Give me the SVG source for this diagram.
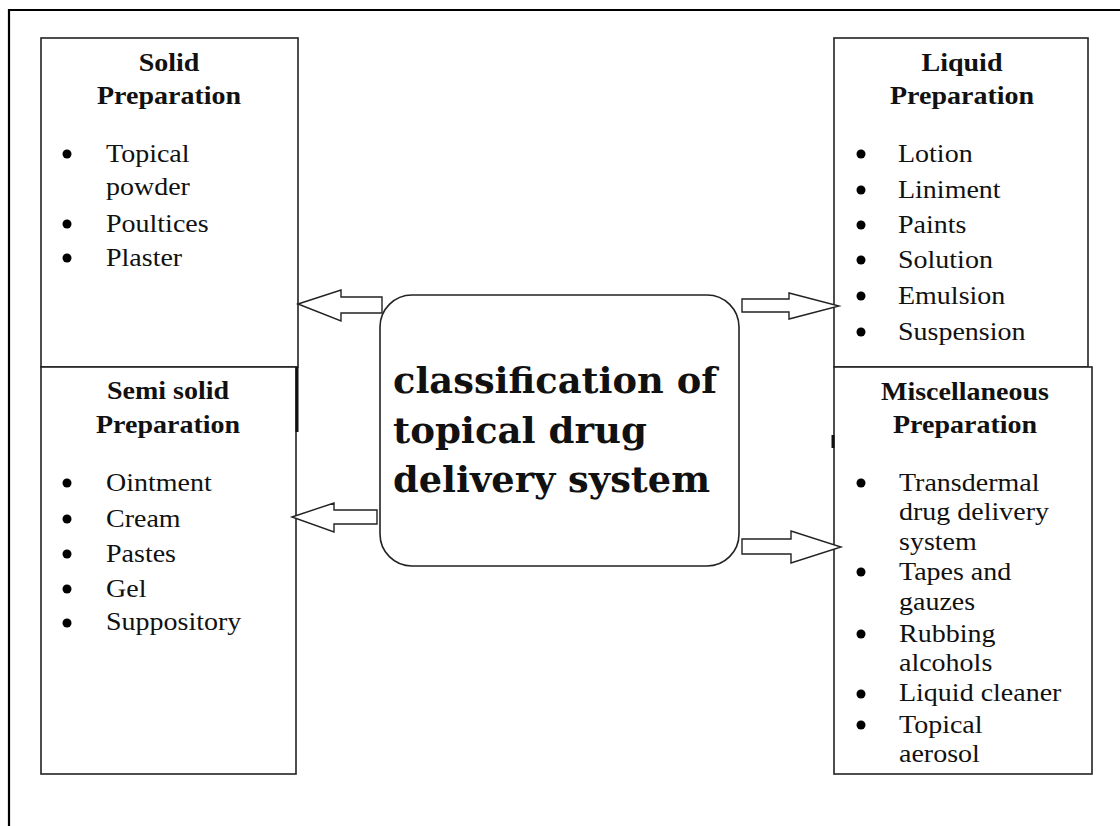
<svg xmlns="http://www.w3.org/2000/svg" width="1120" height="826" viewBox="0 0 1120 826">
<defs>
<style>
.box{fill:#fff;stroke:#222;stroke-width:1.6}
.frame{fill:none;stroke:#000;stroke-width:2.2}
.arrow{fill:#fff;stroke:#222;stroke-width:1.4;stroke-linejoin:miter}
.t{font-family:"Liberation Serif","Times New Roman",serif;font-size:25px;fill:#111}
.h{font-family:"Liberation Serif","Times New Roman",serif;font-size:25px;font-weight:bold;fill:#111;text-anchor:middle}
.c{font-family:"DejaVu Serif","Liberation Serif",serif;font-size:35px;font-weight:bold;fill:#111}
.b{fill:#000}
</style>
</defs>
<rect width="1120" height="826" fill="#fff"/>
<path class="frame" d="M9,830 L9,10 L1125,10"/>

<g id="solid">
<rect class="box" x="41" y="38" width="257" height="329"/>
<g transform="translate(169,0) scale(1.12,1)"><text class="h" x="0" y="71">Solid</text><text class="h" x="0" y="104">Preparation</text></g>
<circle class="b" cx="67" cy="154" r="4.5"/><circle class="b" cx="67" cy="224" r="4.5"/><circle class="b" cx="67" cy="258" r="4.5"/>
<g transform="translate(106,0) scale(1.12,1)">
<text class="t" x="0" y="162">Topical</text>
<text class="t" x="0" y="195">powder</text>
<text class="t" x="0" y="232">Poultices</text>
<text class="t" x="0" y="266">Plaster</text>
</g>
</g>

<g id="semisolid">
<rect class="box" x="41" y="367" width="255" height="407"/>
<line x1="297" y1="367" x2="297" y2="432" stroke="#111" stroke-width="3"/>
<g transform="translate(168,0) scale(1.12,1)"><text class="h" x="0" y="399">Semi solid</text><text class="h" x="0" y="433">Preparation</text></g>
<circle class="b" cx="67" cy="483" r="4.5"/><circle class="b" cx="67" cy="519" r="4.5"/><circle class="b" cx="67" cy="554" r="4.5"/><circle class="b" cx="67" cy="589" r="4.5"/><circle class="b" cx="67" cy="623" r="4.5"/>
<g transform="translate(106,0) scale(1.12,1)">
<text class="t" x="0" y="491">Ointment</text>
<text class="t" x="0" y="527">Cream</text>
<text class="t" x="0" y="562">Pastes</text>
<text class="t" x="0" y="597">Gel</text>
<text class="t" x="0" y="630">Suppository</text>
</g>
</g>

<g id="liquid">
<rect class="box" x="834" y="38" width="254" height="329"/>
<g transform="translate(962,0) scale(1.12,1)"><text class="h" x="0" y="71">Liquid</text><text class="h" x="0" y="104">Preparation</text></g>
<circle class="b" cx="861" cy="154" r="4.5"/><circle class="b" cx="861" cy="190" r="4.5"/><circle class="b" cx="861" cy="225" r="4.5"/><circle class="b" cx="861" cy="260" r="4.5"/><circle class="b" cx="861" cy="296" r="4.5"/><circle class="b" cx="861" cy="332" r="4.5"/>
<g transform="translate(898,0) scale(1.12,1)">
<text class="t" x="0" y="162">Lotion</text>
<text class="t" x="0" y="198">Liniment</text>
<text class="t" x="0" y="233">Paints</text>
<text class="t" x="0" y="268">Solution</text>
<text class="t" x="0" y="304">Emulsion</text>
<text class="t" x="0" y="340">Suspension</text>
</g>
</g>

<g id="misc">
<rect class="box" x="834" y="367" width="258" height="407"/>
<line x1="833" y1="435" x2="833" y2="448" stroke="#111" stroke-width="3"/>
<g transform="translate(965,0) scale(1.12,1)"><text class="h" x="0" y="400">Miscellaneous</text><text class="h" x="0" y="433">Preparation</text></g>
<circle class="b" cx="861" cy="483" r="4.5"/><circle class="b" cx="861" cy="572" r="4.5"/><circle class="b" cx="861" cy="634" r="4.5"/><circle class="b" cx="861" cy="694" r="4.5"/><circle class="b" cx="861" cy="725" r="4.5"/>
<g transform="translate(899,0) scale(1.12,1)">
<text class="t" x="0" y="491">Transdermal</text>
<text class="t" x="0" y="520">drug delivery</text>
<text class="t" x="0" y="550">system</text>
<text class="t" x="0" y="580">Tapes  and</text>
<text class="t" x="0" y="610">gauzes</text>
<text class="t" x="0" y="642">Rubbing</text>
<text class="t" x="0" y="671">alcohols</text>
<text class="t" x="0" y="701">Liquid cleaner</text>
<text class="t" x="0" y="733">Topical</text>
<text class="t" x="0" y="762">aerosol</text>
</g>
</g>

<g id="center">
<rect class="box" x="380" y="295" width="359" height="271" rx="32" ry="32"/>
<text class="c" x="393" y="393" textLength="324" lengthAdjust="spacingAndGlyphs">classification of</text>
<text class="c" x="393" y="443" textLength="254" lengthAdjust="spacingAndGlyphs">topical drug</text>
<text class="c" x="393" y="492" textLength="317" lengthAdjust="spacingAndGlyphs">delivery system</text>
</g>

<g id="connectors">
<polygon class="arrow" points="298,304 341,290 341,297 382,297 382,313 341,313 341,321"/>
<polygon class="arrow" points="292,517 334,503 334,510 377,510 377,524 334,524 334,532"/>
<polygon class="arrow" points="742,299 789,299 789,293 839,306 789,319 789,312 742,312"/>
<polygon class="arrow" points="742,539 791,539 791,531 841,547 791,563 791,554 742,554"/>
</g>
</svg>
